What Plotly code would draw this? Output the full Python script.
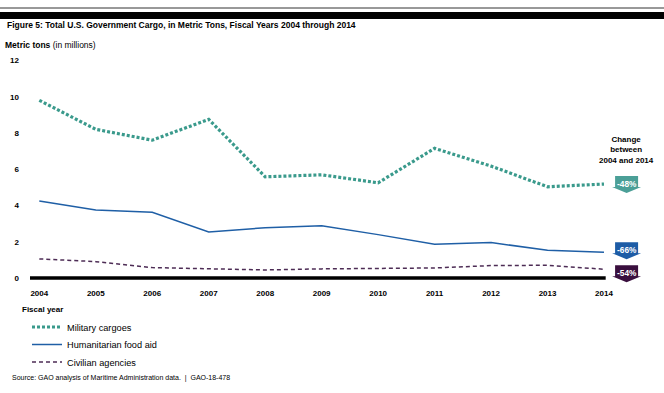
import plotly.graph_objects as go

years = [2004, 2005, 2006, 2007, 2008, 2009, 2010, 2011, 2012, 2013, 2014]
military = [9.8, 8.2, 7.6, 8.75, 5.58, 5.69, 5.25, 7.15, 6.17, 5.03, 5.18]
humanitarian = [4.24, 3.75, 3.62, 2.53, 2.77, 2.88, 2.39, 1.86, 1.95, 1.53, 1.42]
civilian = [1.05, 0.9, 0.57, 0.5, 0.44, 0.5, 0.53, 0.55, 0.68, 0.7, 0.48]
series_names = ["Military cargoes", "Humanitarian food aid", "Civilian agencies"]
change_labels = ["-48%", "-66%", "-54%"]
y_ticks = [0, 2, 4, 6, 8, 10, 12]

TEAL = "#3a9a8c"
BLUE = "#1f5fa6"
PURPLE = "#4d2c55"
TEAL_BOX = "#4b9f97"
BLUE_BOX = "#1d5ca6"
PURPLE_BOX = "#3a0f3e"
FONT = "Liberation Sans, Arial, sans-serif"

W, H = 664, 393
ML, MR, MT, MB = 30, 4, 55, 106
PW, PH = W - ML - MR, H - MT - MB


def px(x):
    return (x - ML) / PW


def py(y):
    return (H - MB - y) / PH


fig = go.Figure()
fig.add_trace(go.Scatter(x=years, y=military, mode="lines", name=series_names[0], legend="legend",
                         line=dict(color=TEAL, width=3.2, dash="3px,2px")))
fig.add_trace(go.Scatter(x=years, y=humanitarian, mode="lines", name=series_names[1], legend="legend2",
                         line=dict(color=BLUE, width=1.5)))
fig.add_trace(go.Scatter(x=years, y=civilian, mode="lines", name=series_names[2], legend="legend3",
                         line=dict(color=PURPLE, width=1.5, dash="4px,3px")))

shapes = []
annotations = []

# baseline at zero
shapes.append(dict(type="line", xref="x", yref="y", x0=years[0] - 0.18, x1=years[-1] + 0.03,
                   y0=0, y1=0, line=dict(color="black", width=3.5), layer="below"))
# top rules
shapes.append(dict(type="line", xref="paper", yref="paper", x0=px(0), x1=px(W),
                   y0=py(8), y1=py(8), line=dict(color="#333333", width=1)))
shapes.append(dict(type="rect", xref="paper", yref="paper", x0=px(0), x1=px(W),
                   y0=py(19), y1=py(12), fillcolor="black", line=dict(width=0)))

# callout arrows
callout_x = years[-1] + 0.40
ends = [military[-1], humanitarian[-1], civilian[-1]]
shifts = [0, 2, -4]  # pixel shift of callouts to avoid overlap
box_colors = [TEAL_BOX, BLUE_BOX, PURPLE_BOX]
for val, lab, col, sh in zip(ends, change_labels, box_colors, shifts):
    path = (f"M -11.5 {8+sh} L 11.5 {8+sh} L 11.5 {-3+sh} L 14.5 {-3+sh} L 0 {-9+sh} "
            f"L -14.5 {-3+sh} L -11.5 {-3+sh} Z")
    shapes.append(dict(type="path", xref="x", yref="y", xsizemode="pixel", ysizemode="pixel",
                       xanchor=callout_x, yanchor=val, path=path,
                       fillcolor=col, line=dict(width=0)))
    annotations.append(dict(x=callout_x, y=val, xref="x", yref="y", text=f"<b>{lab}</b>",
                            showarrow=False, yshift=sh + 0.5,
                            font=dict(family=FONT, size=8.3, color="white")))

annotations.append(dict(x=callout_x, y=military[-1], xref="x", yref="y",
                        text="<b>Change<br>between<br>2004 and 2014</b>",
                        showarrow=False, yshift=34.5, yanchor="middle",
                        font=dict(family=FONT, size=8, color="black")))

annotations.append(dict(x=px(5), y=py(25), xref="paper", yref="paper", xanchor="left", yanchor="middle",
                        text="<b>Figure 5: Total U.S. Government Cargo, in Metric Tons, Fiscal Years 2004 through 2014</b>",
                        showarrow=False, font=dict(family=FONT, size=8.5, color="black")))
annotations.append(dict(x=px(3), y=py(45), xref="paper", yref="paper", xanchor="left", yanchor="middle",
                        text="<b>Metric tons</b> (in millions)",
                        showarrow=False, font=dict(family=FONT, size=8.5, color="black")))
annotations.append(dict(x=px(20), y=py(309), xref="paper", yref="paper", xanchor="left", yanchor="middle",
                        text="<b>Fiscal year</b>",
                        showarrow=False, font=dict(family=FONT, size=8, color="black")))
annotations.append(dict(x=px(10), y=py(378), xref="paper", yref="paper", xanchor="left", yanchor="middle",
                        text="Source: GAO analysis of Maritime Administration data.  |  GAO-18-478",
                        showarrow=False, font=dict(family=FONT, size=7, color="black")))

x0 = years[0] - 9.3 / 56.47
x1 = x0 + PW / 56.47

legend_common = dict(xanchor="left", yanchor="middle", bgcolor="rgba(0,0,0,0)",
                     font=dict(family=FONT, size=9.2, color="black"))

fig.update_layout(
    width=W, height=H,
    margin=dict(l=ML, r=MR, t=MT, b=MB),
    paper_bgcolor="white", plot_bgcolor="white",
    font=dict(family=FONT, color="black"),
    showlegend=True,
    legend=dict(x=px(27), y=py(327), **legend_common),
    legend2=dict(x=px(27), y=py(344.5), **legend_common),
    legend3=dict(x=px(27), y=py(362), **legend_common),
    xaxis=dict(range=[x0, x1], tickmode="array", tickvals=years,
               ticktext=[f"<b>{y}</b>" for y in years], showgrid=False, zeroline=False,
               showline=False, ticks="", tickfont=dict(family=FONT, size=8, color="black")),
    yaxis=dict(range=[-0.5, 12.3], tickmode="array", tickvals=y_ticks,
               ticktext=[f"<b>{v}</b>" for v in y_ticks], showgrid=False, zeroline=False,
               showline=False, ticks="", ticklabelstandoff=10,
               tickfont=dict(family=FONT, size=8, color="black")),
    shapes=shapes,
    annotations=annotations,
)

fig.write_html("out.html", config={"displayModeBar": False},
               post_script="document.body.style.margin='0';document.body.style.overflow='hidden';")
